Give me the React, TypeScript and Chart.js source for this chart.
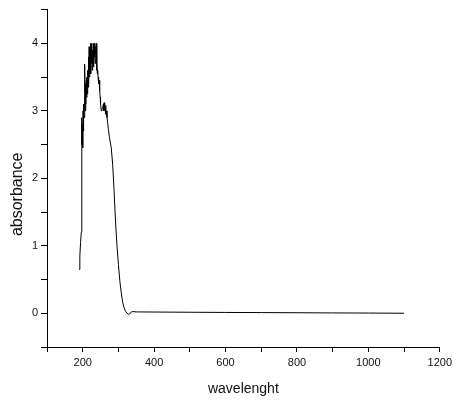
import React, { useEffect, useRef } from "react";
import { Chart, registerables } from "chart.js";

Chart.register(...registerables);

const wavelength: number[] = [
  190, 192, 194, 196, 197, 198, 199, 200, 201, 202, 203, 204, 205, 206, 207, 208, 209,
  210, 211, 212, 213, 214, 215, 216, 217, 218, 219, 220, 221, 222, 223, 224, 225, 226,
  227, 228, 229, 230, 231, 232, 233, 234, 235, 236, 237, 238, 239, 240, 241, 242, 243,
  244, 245, 246, 247, 248, 249, 250, 252, 254, 256, 258, 259, 260, 261, 262, 263, 264,
  265, 266, 268, 270, 272, 275, 280, 284, 288, 292, 296, 300, 304, 308, 312, 316, 320,
  324, 328, 332, 336, 340, 350, 400, 500, 600, 700, 800, 900, 1000, 1100,
];

const absorbance: number[] = [
  0.65, 0.85, 1.05, 1.2, 2.9, 2.5, 2.8, 2.45, 3.0, 2.7, 3.1, 2.9, 3.3, 3.69, 3.0, 3.4, 3.1,
  3.45, 3.2, 3.5, 3.25, 3.6, 3.35, 3.8, 3.4, 3.95, 3.5, 3.9, 3.6, 4.0, 3.55, 3.95, 3.7, 4.0,
  3.6, 3.9, 3.75, 4.0, 3.65, 3.95, 3.8, 4.0, 3.7, 3.95, 3.85, 4.0, 3.6, 3.7, 3.55, 3.6, 3.5,
  3.5, 3.4, 3.45, 3.3, 3.3, 3.2, 3.1, 3.0, 3.02, 3.05, 3.1, 3.0, 3.12, 3.02, 3.1, 3.0, 3.08,
  2.95, 3.0, 2.9, 2.82, 2.72, 2.6, 2.45, 2.2, 1.8, 1.35, 1.0, 0.72, 0.48, 0.3, 0.16, 0.08, 0.03,
  0.0, -0.015, -0.01, 0.02, 0.025, 0.02, 0.018, 0.015, 0.012, 0.01, 0.008, 0.005, 0.003, 0.0,
];

const xMin = 100;
const xMax = 1200;
const xStep = 100;
const xLabelEvery = 200;
const yMin = -0.5;
const yMax = 4.5;
const yStep = 0.5;

const xTitle = "wavelenght";
const yTitle = "absorbance";

export default function App() {
  const ref = useRef<HTMLCanvasElement | null>(null);

  useEffect(() => {
    if (!ref.current) return;
    const points = wavelength.map((x, i) => ({ x, y: absorbance[i] }));
    const chart = new Chart(ref.current, {
      type: "scatter",
      data: {
        datasets: [
          {
            data: points,
            showLine: true,
            borderColor: "#000",
            borderWidth: 1,
            pointRadius: 0,
            tension: 0,
          },
        ],
      },
      options: {
        responsive: false,
        animation: false,
        devicePixelRatio: 1,
        layout: { padding: { top: 8, right: 16, bottom: 0, left: 0 } },
        plugins: { legend: { display: false }, tooltip: { enabled: false } },
        scales: {
          x: {
            type: "linear",
            min: xMin,
            max: xMax,
            border: { display: true, color: "#000", width: 1 },
            grid: { drawOnChartArea: false, drawTicks: true, tickLength: 5, color: "#000" },
            ticks: {
              stepSize: xStep,
              autoSkip: false,
              maxRotation: 0,
              padding: 4,
              color: "#111",
              font: { family: "Liberation Sans, Arial, sans-serif", size: 11 },
              callback: (v: any) => (Number(v) % xLabelEvery === 0 ? String(v) : ""),
            },
            title: {
              display: true,
              text: xTitle,
              color: "#111",
              padding: { top: 0, bottom: 7 },
              font: { family: "Liberation Sans, Arial, sans-serif", size: 14 },
            },
            afterFit: (s: any) => {
              s.height = 58;
            },
          },
          y: {
            type: "linear",
            min: yMin,
            max: yMax,
            border: { display: true, color: "#000", width: 1 },
            grid: { drawOnChartArea: false, drawTicks: true, tickLength: 6, color: "#000" },
            ticks: {
              stepSize: yStep,
              autoSkip: false,
              padding: 3,
              color: "#111",
              font: { family: "Liberation Sans, Arial, sans-serif", size: 11 },
              callback: (v: any) => (Number.isInteger(Number(v)) ? String(v) : ""),
            },
            title: {
              display: true,
              text: yTitle + "\u2002\u2002\u2002\u2002",
              color: "#111",
              padding: { top: 8, bottom: 0 },
              font: { family: "Liberation Sans, Arial, sans-serif", size: 16 },
            },
            afterFit: (s: any) => {
              s.width = 47;
            },
          },
        },
      },
    });
    return () => chart.destroy();
  }, []);

  return (
    <div style={{ position: "absolute", left: 0, top: 0, width: 456, height: 405, background: "#fff" }}>
      <canvas ref={ref} width={456} height={405} />
    </div>
  );
}
